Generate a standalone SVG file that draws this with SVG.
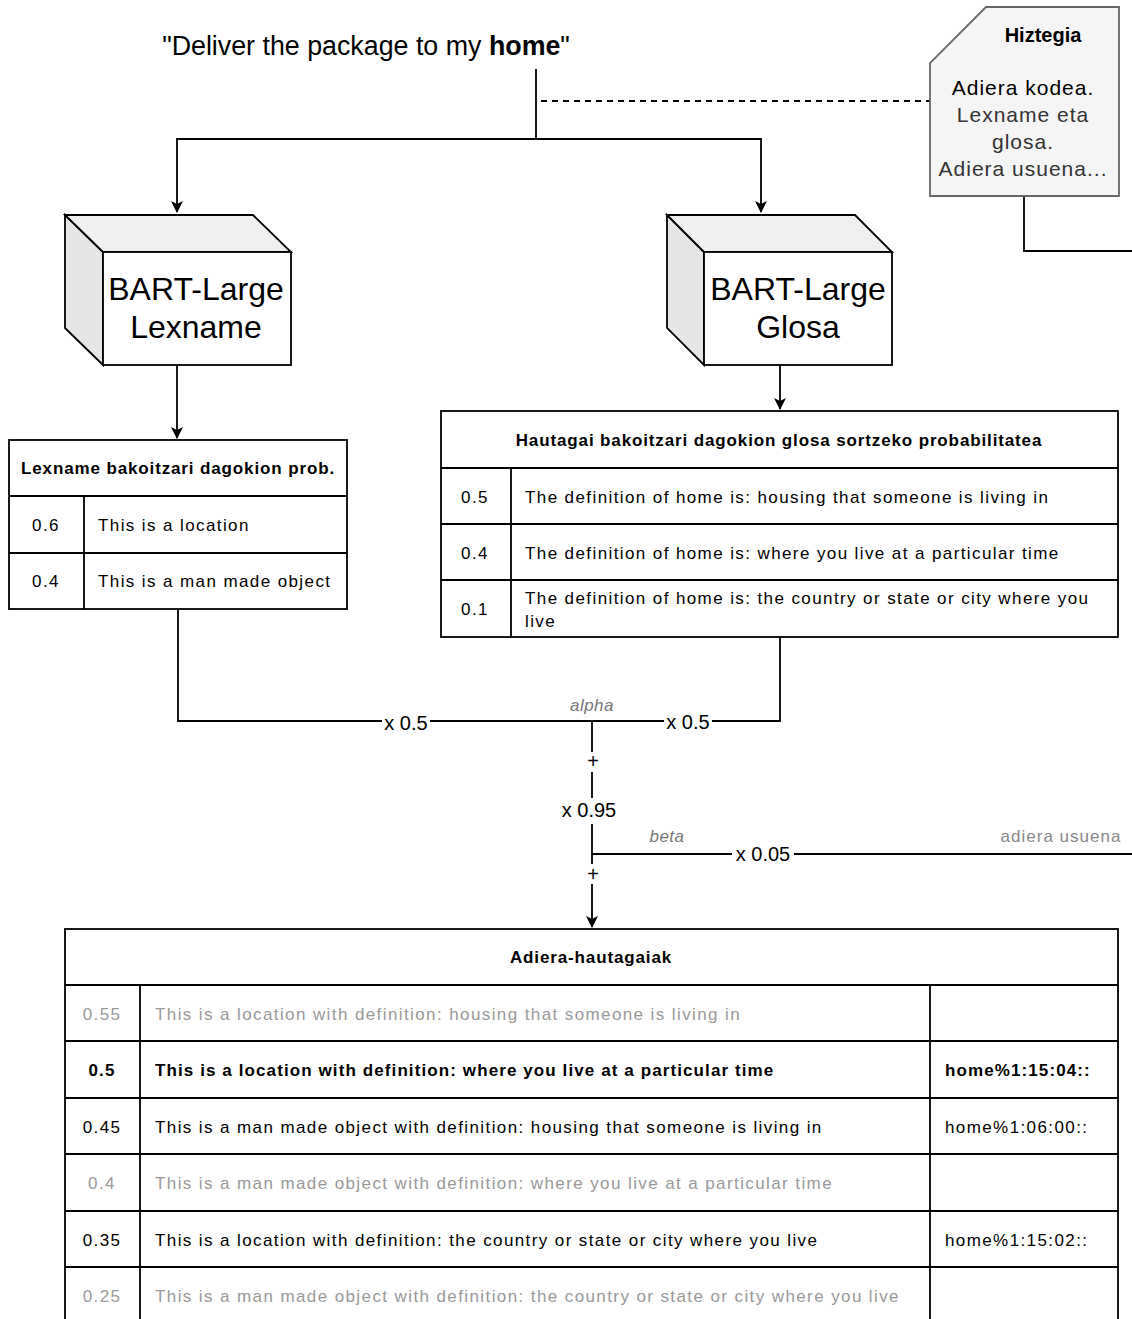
<svg xmlns="http://www.w3.org/2000/svg" width="1132" height="1319" viewBox="0 0 1132 1319">
<defs>
<marker id="arr" viewBox="0 0 12 12" refX="11" refY="6" markerWidth="12" markerHeight="12" markerUnits="userSpaceOnUse" orient="auto">
<path d="M0,0 L12,6 L0,12 L3,6 z" fill="#000"/>
</marker>
<style>
text{font-family:"Liberation Sans",Arial,sans-serif;fill:#000}
.ln{fill:none;stroke:#000;stroke-width:1.8}
.cell{fill:#fff;stroke:#000;stroke-width:1.8}
.big{font-size:32px;text-anchor:middle}
.h{font-size:17px;font-weight:bold;text-anchor:middle;letter-spacing:0.87px}
.t{font-size:17px;letter-spacing:1.4px}
.n{font-size:17px;text-anchor:middle;letter-spacing:1.4px}
.g{fill:#999}
.b{font-weight:bold;letter-spacing:1.1px}
.lab{font-size:20px;text-anchor:middle}
.it{font-size:17px;font-style:italic;fill:#777;text-anchor:middle;letter-spacing:0.5px}
.hz{font-size:21px;text-anchor:middle;letter-spacing:1px}
</style>
</defs>

<g id="connectors">
<path class="ln" d="M536,69 V139"/>
<path class="ln" d="M536,139 H177 V212" marker-end="url(#arr)"/>
<path class="ln" d="M536,139 H761 V212" marker-end="url(#arr)"/>
<path class="ln" d="M541,101 H930" stroke-dasharray="6,5"/>
<path class="ln" d="M177,365 V438" marker-end="url(#arr)"/>
<path class="ln" d="M780,365 V409" marker-end="url(#arr)"/>
<path class="ln" d="M1024,196 V251 H1132"/>
<path class="ln" d="M178,609 V721 H592"/>
<path class="ln" d="M780,637 V721 H592"/>
<path class="ln" d="M592,721 V927" marker-end="url(#arr)"/>
<path class="ln" d="M592,854 H1132"/>
<rect x="382" y="711" width="48" height="22" fill="#fff"/>
<text class="lab" x="406" y="730">x 0.5</text>
<rect x="664" y="711" width="48" height="22" fill="#fff"/>
<text class="lab" x="688" y="729">x 0.5</text>
<text class="it" x="592" y="711">alpha</text>
<rect x="584" y="752" width="16" height="20" fill="#fff"/>
<text class="lab" x="593" y="768">+</text>
<rect x="555" y="798" width="76" height="26" fill="#fff"/>
<text class="lab" x="589" y="817">x 0.95</text>
<text class="it" x="667" y="842">beta</text>
<rect x="732" y="843" width="62" height="22" fill="#fff"/>
<text class="lab" x="763" y="861">x 0.05</text>
<text x="1061" y="842" style="font-size:17px;fill:#888;text-anchor:middle;letter-spacing:1px">adiera usuena</text>
<rect x="584" y="864" width="16" height="20" fill="#fff"/>
<text class="lab" x="593" y="881">+</text>
</g>

<g id="sentence">
<text x="366" y="55" style="font-size:26.8px;text-anchor:middle">"Deliver the package to my <tspan font-weight="bold">home</tspan>"</text>
</g>

<g id="hiztegia">
<path d="M986,7 H1119 V196 H930 V63 Z" fill="#f5f5f5" stroke="#666" stroke-width="1.8"/>
<text x="1043" y="42" style="font-size:20px;font-weight:bold;text-anchor:middle">Hiztegia</text>
<text class="hz" x="1023" y="95">Adiera kodea.</text>
<text class="hz" x="1023" y="122" fill="#333" style="fill:#333">Lexname eta</text>
<text class="hz" x="1023" y="149" style="fill:#333">glosa.</text>
<text class="hz" x="1023" y="176" style="fill:#333">Adiera usuena...</text>
</g>

<g id="bart-lexname">
<path d="M65,215 L103,252 V365 L65,328 Z" fill="#e6e6e6" stroke="#000" stroke-width="1.8"/>
<path d="M65,215 H253 L291,252 H103 Z" fill="#f0f0f0" stroke="#000" stroke-width="1.8"/>
<rect x="103" y="252" width="188" height="113" fill="#fff" stroke="#000" stroke-width="1.8"/>
<text class="big" x="196" y="300">BART-Large</text>
<text class="big" x="196" y="338">Lexname</text>
</g>

<g id="bart-glosa">
<path d="M667,215 L704,252 V365 L667,328 Z" fill="#e6e6e6" stroke="#000" stroke-width="1.8"/>
<path d="M667,215 H855 L892,252 H704 Z" fill="#f0f0f0" stroke="#000" stroke-width="1.8"/>
<rect x="704" y="252" width="188" height="113" fill="#fff" stroke="#000" stroke-width="1.8"/>
<text class="big" x="798" y="300">BART-Large</text>
<text class="big" x="798" y="338">Glosa</text>
</g>

<g id="lexname-table">
<rect class="cell" x="9" y="440" width="338" height="169"/>
<path class="ln" d="M9,496 H347 M9,553 H347 M84,496 V609"/>
<text class="h" x="178" y="474">Lexname bakoitzari dagokion prob.</text>
<text class="n" x="46" y="531">0.6</text>
<text class="t" x="98" y="531">This is a location</text>
<text class="n" x="46" y="587">0.4</text>
<text class="t" x="98" y="587">This is a man made object</text>
</g>

<g id="glosa-table">
<rect class="cell" x="441" y="411" width="677" height="226"/>
<path class="ln" d="M441,468 H1118 M441,524 H1118 M441,580 H1118 M511,468 V637"/>
<text class="h" x="779" y="446">Hautagai bakoitzari dagokion glosa sortzeko probabilitatea</text>
<text class="n" x="475" y="503">0.5</text>
<text class="t" x="525" y="503">The definition of home is: housing that someone is living in</text>
<text class="n" x="475" y="559">0.4</text>
<text class="t" x="525" y="559">The definition of home is: where you live at a particular time</text>
<text class="n" x="475" y="615">0.1</text>
<text class="t" x="525" y="604">The definition of home is: the country or state or city where you</text>
<text class="t" x="525" y="627">live</text>
</g>

<g id="adiera-hautagaiak">
<rect class="cell" x="65" y="929" width="1053" height="400"/>
<path class="ln" d="M65,985 H1118 M65,1041 H1118 M65,1098 H1118 M65,1154 H1118 M65,1211 H1118 M65,1267 H1118 M140,985 V1319 M930,985 V1319"/>
<text class="h" x="591" y="963">Adiera-hautagaiak</text>
<text class="n g" x="102" y="1020">0.55</text>
<text class="t g" x="155" y="1020">This is a location with definition: housing that someone is living in</text>
<text class="n b" x="102" y="1076">0.5</text>
<text class="t b" x="155" y="1076">This is a location with definition: where you live at a particular time</text>
<text class="t b" x="945" y="1076">home%1:15:04::</text>
<text class="n" x="102" y="1133">0.45</text>
<text class="t" x="155" y="1133">This is a man made object with definition: housing that someone is living in</text>
<text class="t" x="945" y="1133">home%1:06:00::</text>
<text class="n g" x="102" y="1189">0.4</text>
<text class="t g" x="155" y="1189">This is a man made object with definition: where you live at a particular time</text>
<text class="n" x="102" y="1246">0.35</text>
<text class="t" x="155" y="1246">This is a location with definition: the country or state or city where you live</text>
<text class="t" x="945" y="1246">home%1:15:02::</text>
<text class="n g" x="102" y="1302">0.25</text>
<text class="t g" x="155" y="1302">This is a man made object with definition: the country or state or city where you live</text>
</g>
</svg>
